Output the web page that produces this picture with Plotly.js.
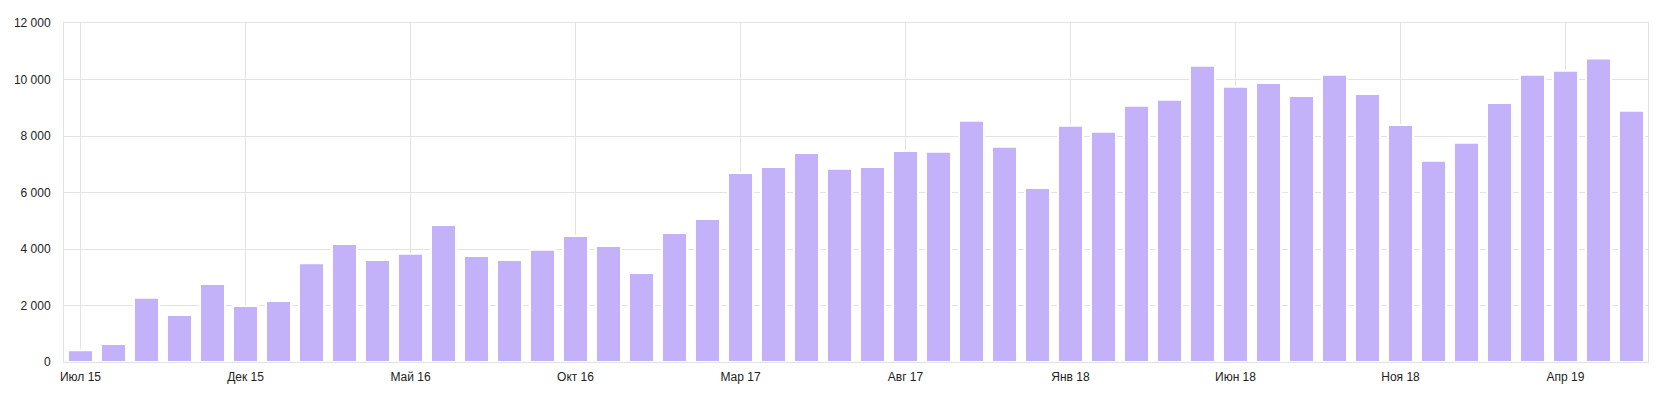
<!DOCTYPE html>
<html>
<head>
<meta charset="utf-8">
<script src="https://cdn.plot.ly/plotly-3.0.1.min.js"></script>
<style>
  html, body { margin: 0; padding: 0; background: #ffffff; }
  #chart { width: 1671px; height: 408px; }
</style>
</head>
<body>
<div id="chart"></div>
<script>
// Monthly categories, Jul 2015 .. Jun 2019
const months = [
  "Июл 15","Авг 15","Сен 15","Окт 15","Ноя 15","Дек 15",
  "Янв 16","Фев 16","Мар 16","Апр 16","Май 16","Июн 16",
  "Июл 16","Авг 16","Сен 16","Окт 16","Ноя 16","Дек 16",
  "Янв 17","Фев 17","Мар 17","Апр 17","Май 17","Июн 17",
  "Июл 17","Авг 17","Сен 17","Окт 17","Ноя 17","Дек 17",
  "Янв 18","Фев 18","Мар 18","Апр 18","Май 18","Июн 18",
  "Июл 18","Авг 18","Сен 18","Окт 18","Ноя 18","Дек 18",
  "Янв 19","Фев 19","Мар 19","Апр 19","Май 19","Июн 19"
];

const values = [
  420, 640, 2270, 1660, 2760, 1980,
  2160, 3500, 4180, 3610, 3830, 4850,
  3750, 3610, 3970, 4460, 4110, 3150,
  4570, 5060, 6690, 6900, 7400, 6840,
  6900, 7470, 7440, 8540, 7620, 6160,
  8360, 8150, 9070, 9280, 10490, 9740,
  9880, 9420, 10170, 9490, 8390, 7120,
  7760, 9170, 10170, 10310, 10740, 8890
];

const tickLabels = ["Июл 15","Дек 15","Май 16","Окт 16","Мар 17","Авг 17","Янв 18","Июн 18","Ноя 18","Апр 19"];
const yTicks = [0, 2000, 4000, 6000, 8000, 10000, 12000];

const trace = {
  type: "bar",
  x: months,
  y: values,
  marker: { color: "#c3b1f9", line: { color: "#ffffff", width: 2 } },
  hoverinfo: "x+y"
};

const layout = {
  width: 1671,
  height: 408,
  margin: { l: 64, r: 23, t: 23, b: 46, pad: 0 },
  paper_bgcolor: "#ffffff",
  plot_bgcolor: "#ffffff",
  separators: ", ",
  bargap: 0.24,
  showlegend: false,
  font: { family: "Liberation Sans, Arial, sans-serif", size: 12, color: "#222222" },
  xaxis: {
    type: "category",
    range: [-0.5, months.length - 0.5],
    tickmode: "array",
    tickvals: tickLabels,
    ticktext: tickLabels,
    showgrid: true,
    gridcolor: "#e3e3e3",
    gridwidth: 1,
    showline: true,
    linecolor: "#e3e3e3",
    linewidth: 1,
    mirror: true,
    ticks: "",
    ticklabelstandoff: 4,
    tickfont: { size: 12, color: "#222222" },
    fixedrange: true
  },
  yaxis: {
    range: [0, 12000],
    tickmode: "array",
    tickvals: yTicks,
    separatethousands: true,
    tickformat: ",d",
    showgrid: true,
    gridcolor: "#e3e3e3",
    gridwidth: 1,
    zeroline: false,
    showline: true,
    linecolor: "#e3e3e3",
    linewidth: 1,
    mirror: true,
    ticks: "",
    ticklabelstandoff: 10,
    tickfont: { size: 12, color: "#222222" },
    fixedrange: true
  }
};

Plotly.newPlot("chart", [trace], layout, { displayModeBar: false, staticPlot: true });
</script>
</body>
</html>
